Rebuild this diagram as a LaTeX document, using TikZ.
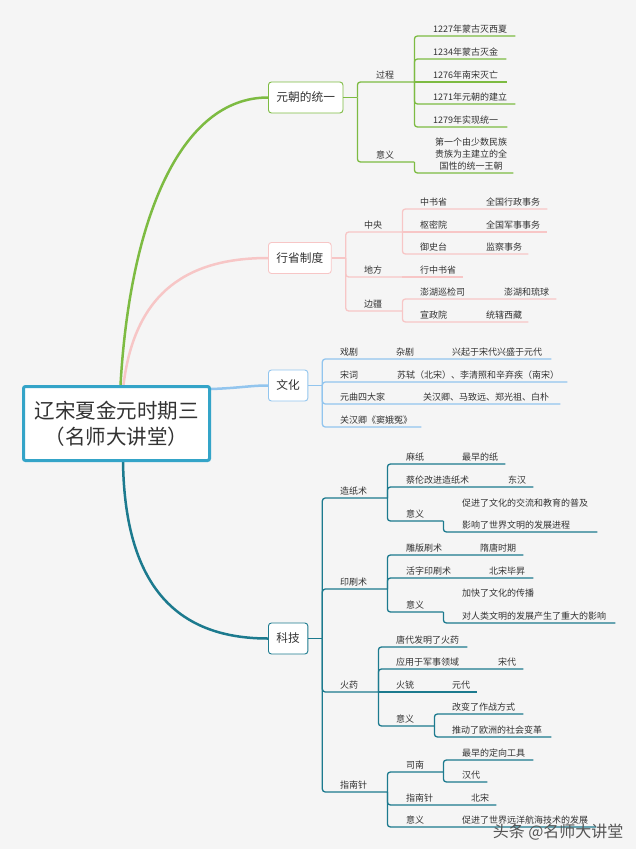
\documentclass[tikz,border=0pt]{standalone}
\usepackage{fontspec}
\setmainfont{Noto Sans CJK SC}
\usetikzlibrary{backgrounds}
\definecolor{MGreen}{RGB}{125, 187, 66}
\definecolor{MPink}{RGB}{247, 198, 198}
\definecolor{MBlue}{RGB}{146, 197, 238}
\definecolor{MTeal}{RGB}{28, 122, 142}
\definecolor{MRoot}{RGB}{52, 164, 200}
\definecolor{MBack}{RGB}{245, 245, 245}
\definecolor{MText}{RGB}{51, 51, 51}
\definecolor{MMark}{RGB}{85, 85, 85}
\newcommand{\leaffont}{\fontsize{9}{11}\selectfont}
\newcommand{\boxfont}{\fontsize{11.7}{14}\selectfont}
\newcommand{\rootfont}{\fontsize{20.5}{26}\selectfont}

\begin{document}
\begin{tikzpicture}[
  x=1pt, y=-1pt,
  every node/.style={font=\leaffont, text=MText},
  rootbox/.style={draw=MRoot, fill=white, rounded corners=2pt, line width=3pt,
                  minimum width=186pt, minimum height=74pt, align=center, font=\rootfont},
  mainbox/.style={draw=#1, fill=white, rounded corners=3pt, line width=0.9pt, anchor=west,
                  minimum height=31pt, inner xsep=8pt, font=\boxfont},
  leaf/.style={anchor=south west, inner xsep=0pt, inner ysep=2.5pt, text depth=1.2pt, align=left},
  multi/.style={text depth={}, font=\fontsize{9}{#1}\selectfont},
  branch/.style={draw=#1, line width=2.5pt, line cap=round},
  twig/.style={draw=#1, line width=1.3pt, rounded corners=3pt}
]
  \useasboundingbox (0,0) rectangle (640,854);

  %% Root and main boxes
  \node[rootbox]        (root)  at (116.5,423.5) {辽宋夏金元时期三\\（名师大讲堂）};
  \node[mainbox=MGreen] (unify) at (268, 97.5)   {元朝的统一};
  \node[mainbox=MPink]  (prov)  at (268,258)     {行省制度};
  \node[mainbox=MBlue]  (cult)  at (268,385.5)   {文化};
  \node[mainbox=MTeal]  (tech)  at (268,638.5)   {科技};

  %% Curves from the root
  \begin{scope}[on background layer]
    \fill[white] (0,0) rectangle (640,854);
    \fill[MBack] (0,0) rectangle (636,849);
    \draw[branch=MGreen] ([xshift=4pt]root.north) .. controls (130,220) and (180,97.5) .. (unify.west);
    \draw[branch=MPink]  ([xshift=7pt]root.north) .. controls (135,290) and (190,258) .. (prov.west);
    \draw[branch=MBlue]  ([yshift=-4pt]root.north east) .. controls (240,388) and (250,385.5) .. (cult.west);
    \draw[branch=MTeal]  ([xshift=6.5pt]root.south) .. controls (125,590) and (180,638.5) .. (tech.west);
  \end{scope}

  %% Nodes: 元朝的统一
  \node[leaf, text width=38pt] (process) at (376, 82) {过程};
  \node[leaf, text width=82pt] (y1227)   at (433, 36) {1227年蒙古灭西夏};
  \node[leaf, text width=73pt] (y1234)   at (433, 59) {1234年蒙古灭金};
  \node[leaf, text width=74pt] (y1276)   at (433, 82) {1276年南宋灭亡};
  \node[leaf, text width=82pt] (y1271)   at (433,104) {1271年元朝的建立};
  \node[leaf, text width=74pt] (y1279)   at (433,127) {1279年实现统一};
  \node[leaf, text width=38pt] (umean)   at (376,162) {意义};
  \node[leaf, multi=11.8, text width=84pt, align=center]
                               (uclaim)  at (429,173) {第一个由少数民族\\贵族为主建立的全\\国性的统一王朝};

  %% Nodes: 行省制度
  \node[leaf, text width=38pt]  (central) at (364,232) {中央};
  \node[leaf, text width=127pt] (secr)    at (420,209) {中书省};
  \node[leaf]                   (secrD)   at (486,209) {全国行政事务};
  \node[leaf, text width=127pt] (priv)    at (420,232) {枢密院};
  \node[leaf]                   (privD)   at (486,232) {全国军事事务};
  \node[leaf, text width=108pt] (cens)    at (420,254) {御史台};
  \node[leaf]                   (censD)   at (486,254) {监察事务};
  \node[leaf, text width=38pt]  (local)   at (364,277) {地方};
  \node[leaf, text width=43pt]  (xzs)     at (420,277) {行中书省};
  \node[leaf, text width=38pt]  (fron)    at (364,311) {边疆};
  \node[leaf, text width=136pt] (penghu)  at (420,299) {澎湖巡检司};
  \node[leaf]                   (penghuD) at (504,299) {澎湖和琉球};
  \node[leaf, text width=108pt] (tibet)   at (420,322) {宣政院};
  \node[leaf]                   (tibetD)  at (486,322) {统辖西藏};

  %% Nodes: 文化
  \node[leaf, text width=211pt] (drama)   at (340,359) {戏剧};
  \node[leaf]                   (zaju)    at (396,359) {杂剧};
  \node[leaf]                   (zajuD)   at (452,359) {兴起于宋代兴盛于元代};
  \node[leaf, text width=227pt] (songci)  at (340,382) {宋词};
  \node[leaf]                   (songciD) at (397,382) {苏轼（北宋）、李清照和辛弃疾（南宋）};
  \node[leaf, text width=220pt] (yuanqu)  at (340,404) {元曲四大家};
  \node[leaf]                   (yuanquD) at (423,404) {关汉卿、马致远、郑光祖、白朴};
  \node[leaf, text width=81pt]  (dou)     at (340,427) {关汉卿《窦娥冤》};

  %% Nodes: 科技
  \node[leaf, text width=47pt]  (paper)   at (340,498) {造纸术};
  \node[leaf, text width=99pt]  (hemp)    at (406,464) {麻纸};
  \node[leaf]                   (hempD)   at (462,464) {最早的纸};
  \node[leaf, text width=127pt] (cailun)  at (406,487) {蔡伦改进造纸术};
  \node[leaf]                   (cailunD) at (508,487) {东汉};
  \node[leaf, text width=37pt]  (pmean)   at (406,521) {意义};
  \node[leaf, multi=22, text width=135pt]
                                (pspread) at (462,532) {促进了文化的交流和教育的普及\\影响了世界文明的发展进程};

  \node[leaf, text width=47pt]  (print)    at (340,589) {印刷术};
  \node[leaf, text width=117pt] (block)    at (406,555) {雕版刷术};
  \node[leaf]                   (blockD)   at (480,555) {隋唐时期};
  \node[leaf, text width=127pt] (movable)  at (406,578) {活字印刷术};
  \node[leaf]                   (movableD) at (489,578) {北宋毕昇};
  \node[leaf, text width=37pt]  (rmean)    at (406,612) {意义};
  \node[leaf, multi=23, text width=153pt]
                                (rspread)  at (462,623) {加快了文化的传播\\对人类文明的发展产生了重大的影响};

  \node[leaf, text width=38pt]  (powder)    at (340,692) {火药};
  \node[leaf, text width=71pt]  (tang)      at (396,647) {唐代发明了火药};
  \node[leaf, text width=127pt] (military)  at (396,669) {应用于军事领域};
  \node[leaf]                   (militaryD) at (498,669) {宋代};
  \node[leaf, text width=81pt]  (gun)       at (396,692) {火铳};
  \node[leaf]                   (gunD)      at (452,692) {元代};
  \node[leaf, text width=38pt]  (hmean)     at (396,726) {意义};
  \node[leaf, text width=71pt]  (tactic)    at (452,714) {改变了作战方式};
  \node[leaf, text width=99pt]  (europe)    at (452,737) {推动了欧洲的社会变革};

  \node[leaf, text width=47pt]  (compass)  at (340,792) {指南针};
  \node[leaf, text width=37pt]  (sinan)    at (406,772) {司南};
  \node[leaf, text width=71pt]  (orient)   at (462,760) {最早的定向工具};
  \node[leaf, text width=25pt]  (han)      at (462,782) {汉代};
  \node[leaf, text width=90pt]  (needle)   at (406,805) {指南针};
  \node[leaf]                   (needleD)  at (471,805) {北宋};
  \node[leaf, text width=190pt] (cmean)    at (406,827) {意义};
  \node[leaf]                   (cmeanD)   at (462,827) {促进了世界远洋航海技术的发展};

  %% Lines: 元朝的统一
  \draw[twig=MGreen] (unify.east) -- ++(14,0) coordinate (unify-s);
  \foreach \n in {process,umean} \draw[twig=MGreen] (unify-s) |- (\n.south east);
  \foreach \n in {y1227,y1234,y1271,y1279} \draw[twig=MGreen] (process.south east) |- (\n.south east);
  \draw[twig=MGreen] (process.south east) -- (y1276.south east);
  \draw[twig=MGreen] (umean.south east) |- (uclaim.south east);

  %% Lines: 行省制度
  \draw[twig=MPink] (prov.east) -- ++(14,0) coordinate (prov-s);
  \foreach \n in {central,local,fron} \draw[twig=MPink] (prov-s) |- (\n.south east);
  \foreach \n in {secr,cens} \draw[twig=MPink] (central.south east) |- (\n.south east);
  \draw[twig=MPink] (central.south east) -- (priv.south east);
  \draw[twig=MPink] (local.south east) -- (xzs.south east);
  \foreach \n in {penghu,tibet} \draw[twig=MPink] (fron.south east) |- (\n.south east);

  %% Lines: 文化
  \draw[twig=MBlue] (cult.east) -- ++(14,0) coordinate (cult-s);
  \foreach \n in {drama,songci,yuanqu,dou} \draw[twig=MBlue] (cult-s) |- (\n.south east);

  %% Lines: 科技
  \draw[twig=MTeal] (tech.east) -- ++(14,0) coordinate (tech-s);
  \foreach \n in {paper,print,powder,compass} \draw[twig=MTeal] (tech-s) |- (\n.south east);
  \foreach \n in {hemp,cailun,pmean} \draw[twig=MTeal] (paper.south east) |- (\n.south east);
  \draw[twig=MTeal] (pmean.south east) |- (pspread.south east);
  \foreach \n in {block,movable,rmean} \draw[twig=MTeal] (print.south east) |- (\n.south east);
  \draw[twig=MTeal] (rmean.south east) |- (rspread.south east);
  \foreach \n in {tang,military,hmean} \draw[twig=MTeal] (powder.south east) |- (\n.south east);
  \draw[twig=MTeal] (powder.south east) -- (gun.south east);
  \foreach \n in {tactic,europe} \draw[twig=MTeal] (hmean.south east) |- (\n.south east);
  \foreach \n in {sinan,needle,cmean} \draw[twig=MTeal] (compass.south east) |- (\n.south east);
  \foreach \n in {orient,han} \draw[twig=MTeal] (sinan.south east) |- (\n.south east);

  %% Watermark
  \node[font=\fontsize{16}{16}\selectfont, text=MMark, anchor=east] (mark) at (627,832) {头条 @名师大讲堂};
\end{tikzpicture}
\end{document}
